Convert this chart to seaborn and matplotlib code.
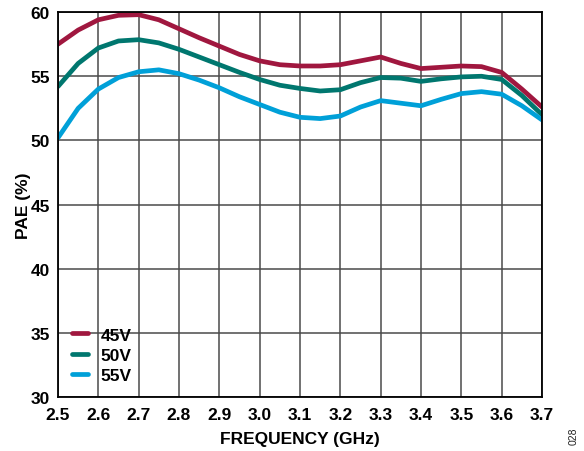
import numpy as np
import pandas as pd
import matplotlib
matplotlib.use("Agg")
import matplotlib.pyplot as plt
import seaborn as sns

freq = [2.5, 2.55, 2.6, 2.65, 2.7, 2.75, 2.8, 2.85, 2.9, 2.95, 3.0, 3.05, 3.1,
        3.15, 3.2, 3.25, 3.3, 3.35, 3.4, 3.45, 3.5, 3.55, 3.6, 3.65, 3.7]
pae_45v = [57.5, 58.6, 59.4, 59.75, 59.8, 59.4, 58.7, 58.0, 57.35, 56.7, 56.2, 55.9, 55.8,
           55.8, 55.9, 56.2, 56.5, 56.0, 55.6, 55.7, 55.8, 55.75, 55.3, 54.0, 52.6]
pae_50v = [54.2, 56.0, 57.2, 57.75, 57.85, 57.6, 57.1, 56.5, 55.9, 55.3, 54.75, 54.3, 54.05,
           53.85, 53.95, 54.5, 54.9, 54.85, 54.6, 54.8, 54.95, 55.0, 54.75, 53.5, 52.0]
pae_55v = [50.2, 52.5, 54.0, 54.9, 55.35, 55.5, 55.2, 54.7, 54.1, 53.4, 52.8, 52.2, 51.8,
           51.7, 51.9, 52.6, 53.1, 52.9, 52.7, 53.2, 53.65, 53.8, 53.6, 52.7, 51.6]
series = ["45V", "50V", "55V"]
colors = ["#A0173F", "#00776F", "#00A0D8"]
x_ticks = [2.5, 2.6, 2.7, 2.8, 2.9, 3.0, 3.1, 3.2, 3.3, 3.4, 3.5, 3.6, 3.7]
y_ticks = [30, 35, 40, 45, 50, 55, 60]

df = pd.DataFrame({
    "freq": freq * 3,
    "pae": pae_45v + pae_50v + pae_55v,
    "supply": [s for s in series for _ in freq],
})

sns.set_theme(style="white")
plt.rcParams["font.family"] = ["Liberation Sans", "DejaVu Sans"]
plt.rcParams["font.weight"] = "bold"
plt.rcParams["text.color"] = "black"
plt.rcParams["axes.labelcolor"] = "black"
plt.rcParams["lines.solid_joinstyle"] = "round"
plt.rcParams["lines.solid_capstyle"] = "round"

fig = plt.figure(figsize=(5.84, 4.52), dpi=100)
ax = fig.add_axes([0.0993, 0.1195, 0.8288, 0.8515])

sns.lineplot(data=df, x="freq", y="pae", hue="supply", palette=colors,
             linewidth=3.4, ax=ax, sort=True)

ax.set_xlim(2.5, 3.7)
ax.set_ylim(30, 60)
ax.set_xticks(x_ticks)
ax.set_xticklabels([f"{t:.1f}" for t in x_ticks], fontsize=12.5, fontweight="bold")
ax.set_yticks(y_ticks)
ax.set_yticklabels([str(t) for t in y_ticks], fontsize=12.5, fontweight="bold")
ax.grid(True, color="#4a4a4a", linewidth=1.1)
ax.set_axisbelow(True)
for sp in ax.spines.values():
    sp.set_color("black")
    sp.set_linewidth(1.3)
ax.tick_params(axis="x", length=0, pad=7, colors="black")
ax.tick_params(axis="y", length=0, pad=6, colors="black")

ax.set_xlabel("FREQUENCY (GHz)", fontsize=12.5, fontweight="bold", labelpad=7)
ax.set_ylabel("PAE (%)", fontsize=12.5, fontweight="bold", labelpad=0)
ax.yaxis.set_label_coords(-0.056, 0.5)

leg = ax.legend(loc="lower left", bbox_to_anchor=(-0.004, -0.005), frameon=False,
                fontsize=12.5, handlelength=0.95, handletextpad=0.7,
                labelspacing=0.3, borderaxespad=0.5)
for txt in leg.get_texts():
    txt.set_fontweight("bold")
    txt.set_color("black")
for ln in leg.get_lines():
    ln.set_linewidth(3.4)
    ln.set_solid_capstyle("round")

fig.text(0.982, 0.015, "028", rotation=90, fontsize=7.5, fontweight="normal",
         ha="center", va="bottom", color="#222222")

fig.savefig("out.png", dpi=100)
